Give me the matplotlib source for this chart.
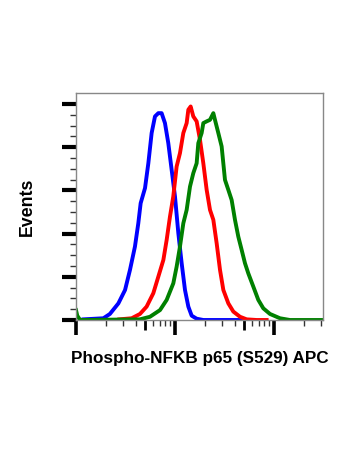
import matplotlib
matplotlib.use("Agg")
import matplotlib.pyplot as plt
import numpy as np

plt.rcParams['font.family'] = ['Liberation Sans', 'DejaVu Sans']

# Fluorescence intensity (APC) and event percentage (% of max)
blue_x = [119, 189, 220, 268, 313, 351, 394, 426, 450, 498, 538, 581, 628, 679,
          733, 792, 856, 925, 1000, 1081, 1168, 1262, 1364, 1474, 1655, 1933, 4899]
blue_y = [0.3, 0.8, 2.8, 7.7, 13.9, 23.2, 34.0, 44.8, 54.1, 61.1, 72.6, 86.6, 94.3, 95.8,
          95.8, 91.2, 81.9, 69.6, 57.2, 40.2, 26.3, 13.9, 6.2, 2.0, 0.6, 0.0, 0.0]

red_x = [274, 365, 443, 517, 604, 679, 763, 824, 890, 961, 1039, 1123, 1214, 1312,
         1364, 1440, 1531, 1655, 1789, 1933, 2089, 2258, 2440, 2637, 2850, 3080,
         3459, 3884, 4537, 5296, 6683, 8432]
red_y = [0.3, 0.8, 2.8, 6.2, 12.4, 20.1, 27.8, 37.1, 47.9, 57.2, 71.1, 77.3, 86.6, 91.2,
         97.4, 98.9, 94.3, 92.0, 83.5, 72.6, 60.3, 51.0, 46.4, 35.5, 23.2, 13.9,
         7.7, 3.9, 1.5, 0.3, 0.0, 0.0]

green_x = [100, 103, 110, 442, 559, 706, 824, 962, 1039, 1123, 1214, 1312, 1418, 1531,
           1655, 1720, 1859, 1933, 2089, 2257, 2440, 2535, 2740, 2960, 3199, 3457,
           3736, 4037, 4362, 4714, 5094, 5504, 6181, 6947, 7804, 9112, 11499, 14507, 31500]
green_y = [4.6, 2.0, 0.0, 0.3, 1.5, 4.6, 9.3, 17.0, 24.7, 34.0, 44.8, 51.0, 61.8, 68.0,
           72.6, 81.9, 86.6, 91.2, 92.0, 92.7, 95.8, 92.7, 86.6, 80.4, 64.9, 60.3,
           55.6, 46.4, 38.6, 32.5, 26.3, 21.6, 15.5, 9.3, 5.4, 2.8, 0.8, 0.0, 0.0]

x_label = "Phospho-NFKB p65 (S529) APC"
y_label = "Events"

fig = plt.figure(figsize=(3.5, 4.67), dpi=100)
ax = fig.add_axes([76/350, 1-320/467, 247.3/350, 226.7/467])

ax.plot(blue_x, blue_y, color='#0000ff', lw=2.8, solid_joinstyle='round')
ax.plot(red_x, red_y, color='#ff0000', lw=2.8, solid_joinstyle='round')
ax.plot(green_x, green_y, color='#008000', lw=2.8, solid_joinstyle='round')

ax.set_xscale('log')
ax.set_xlim(100, 31500)
ax.set_ylim(0, 105)

for s in ax.spines.values():
    s.set_color('#888888')
    s.set_linewidth(1.0)

ax.set_yticks([0, 20, 40, 60, 80, 100])
ax.set_yticks(np.arange(5, 105, 5), minor=True)
major_x = [100, 500, 1000, 5000, 10000]
ax.set_xticks(major_x)
ax.set_xticks([v * d for d in (100, 1000, 10000) for v in (2, 3, 4, 6, 7, 8, 9) if v * d < 31500], minor=True)
ax.tick_params(which='major', length=10, width=2.4, color='black', labelleft=False, labelbottom=False)
ax.tick_params(which='minor', length=4, width=1.0, color='#333333', labelleft=False, labelbottom=False)
ax.tick_params(axis='y', which='major', length=10, width=3.0)
ax.tick_params(axis='y', which='minor', length=4.5, width=1.0)
for val, t in zip(major_x, ax.xaxis.get_major_ticks()):
    if val in (500, 5000):
        t.tick1line.set_markersize(7)
        t.tick1line.set_markeredgewidth(2.0)
    else:
        t.tick1line.set_markersize(11)
        t.tick1line.set_markeredgewidth(2.6)

fig.text(199.5/350, 1-363.5/467, x_label, ha='center', va='baseline',
         fontsize=12.3, fontweight='bold')
fig.text(27.5/350, 1-207/467, y_label, ha='center', va='center', rotation=90,
         fontsize=12.8, fontweight='bold')

fig.savefig('out.png', dpi=100)
